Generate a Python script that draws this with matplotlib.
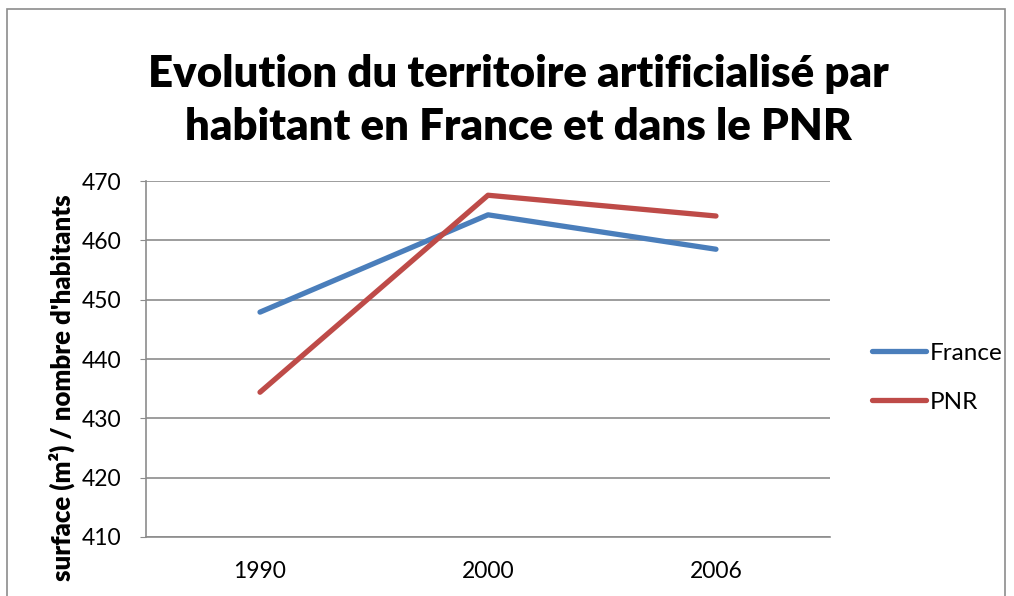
import matplotlib.pyplot as plt
from matplotlib.patches import Rectangle

plt.rcParams['font.family'] = ['Lato', 'DejaVu Sans']

years = ['1990', '2000', '2006']
france = [447.9, 464.3, 458.5]
pnr = [434.4, 467.6, 464.1]
yticks = [410, 420, 430, 440, 450, 460, 470]

fig = plt.figure(figsize=(10.14, 5.96), dpi=100)
ax = fig.add_axes([0.144, 0.099, 0.6745, 0.5973])

x = range(len(years))
ax.plot(x, france, color='#4a7ebb', linewidth=3.8, label='France', solid_capstyle='round')
ax.plot(x, pnr, color='#be4b48', linewidth=3.8, label='PNR', solid_capstyle='round')

ax.set_xlim(-0.5, 2.5)
ax.set_ylim(410, 470)
ax.set_yticks(yticks)
ax.set_xticks(list(x))
ax.set_xticklabels(years)
ax.grid(axis='y', color='#8c8c8c', linewidth=1.2)
ax.set_axisbelow(True)
for s in ['top', 'right']:
    ax.spines[s].set_visible(False)
for s in ['left', 'bottom']:
    ax.spines[s].set_color('#8c8c8c')
    ax.spines[s].set_linewidth(1.2)
ax.tick_params(axis='y', length=4, color='#8c8c8c', labelsize=16.5, pad=14)
ax.tick_params(axis='x', length=0, labelsize=16.5, pad=17)

ax.set_ylabel("surface (m²) / nombre d'habitants", fontsize=18.5, fontweight='heavy')
ax.yaxis.set_label_coords(-0.104, 0.42)

fig.text(0.511, 0.832, "Evolution du territoire artificialisé par\nhabitant en France et dans le PNR",
         ha='center', va='center', fontsize=31.5, fontweight='heavy', linespacing=1.4)

ax.legend(loc='center left', bbox_to_anchor=(1.03, 0.447), frameon=False, fontsize=17.5,
          handlelength=2.2, handletextpad=0.15, labelspacing=1.15)

fig.patches.append(Rectangle((0.007, -0.1), 0.984, 1.085, transform=fig.transFigure,
                             fill=False, edgecolor='#8c8c8c', linewidth=1.2))

fig.savefig('out.png', dpi=100, facecolor='white')
